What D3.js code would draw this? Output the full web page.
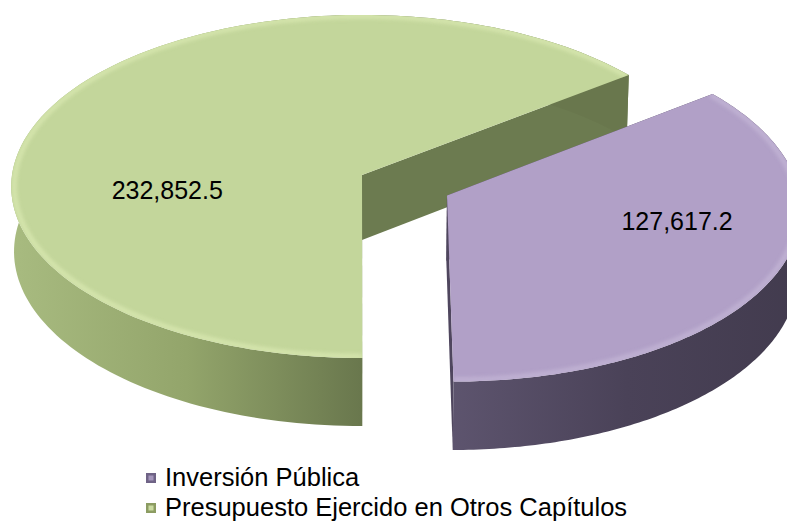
<!DOCTYPE html>
<html><head><meta charset="utf-8">
<script src="https://cdn.jsdelivr.net/npm/d3@7"></script>
<style>body{margin:0;background:#fff} svg{display:block}</style>
</head><body><svg id="c" width="787" height="525"></svg>
<script>
// ---- data ----
const categories = ["Inversión Pública", "Presupuesto Ejercido en Otros Capítulos"];
const values = [127617.2, 232852.5];
// ---- styles / layout ----
const topColors = ["#B1A0C7", "#C3D69B"];
const bevelColors = ["#C9BCDA", "#E0EEB8"];
const sideStops = [["#5D546E", "#4A4258", "#423B4E"], ["#A8BB80", "#93A56B", "#69774D"]];
const cutColors = ["#4F465E", "#6C7B50"];
const legendOuter = ["#6F6386", "#8C9C62"];
const legendInner = ["#A597BC", "#CBDBA2"];
const explode = [94, 0];
const labelPos = [{deg: 103, r: 0.66}, {deg: 261, r: 0.56}];

const W = 787, Hh = 525;
const cx = 362, cy = 175, R = 350, depth = 75;
const tilt = Math.asin(0.488), focal = 4553;
const startAngle = 52.5 * Math.PI / 180;
const fmt = d3.format(",.1f");

const svg = d3.select("#c");
const defs = svg.append("defs");
defs.append("filter").attr("id", "blur").append("feGaussianBlur").attr("stdDeviation", 2);

function proj(u, v, h) {
  const D = v * Math.cos(tilt) - h * Math.sin(tilt);
  const s = focal / (focal + D);
  return [cx + u * s, cy - (v * Math.sin(tilt) + h * Math.cos(tilt)) * s];
}

const pie = d3.pie().sort(null).value(d => d).startAngle(startAngle).endAngle(startAngle + 2 * Math.PI);
const arcs = pie(values).map((a, i) => {
  const mid = (a.startAngle + a.endAngle) / 2;
  return {...a, i, mid, ou: explode[i] * Math.sin(mid), ov: explode[i] * Math.cos(mid)};
});

const line = d3.line().curve(d3.curveLinear);
const N = 160;
function rimPts(a, h, r = R) {
  return d3.range(N + 1).map(k => {
    const phi = a.startAngle + (a.endAngle - a.startAngle) * k / N;
    return proj(a.ou + r * Math.sin(phi), a.ov + r * Math.cos(phi), h);
  });
}
function rimPt(a, phi, h) { return proj(a.ou + R * Math.sin(phi), a.ov + R * Math.cos(phi), h); }

// draw farther slices first
const order = arcs.slice().sort((p, q) => q.ov - p.ov);
const g = svg.append("g");

order.forEach(a => {
  const i = a.i;
  const sg = g.append("g").attr("class", "slice");
  const apexT = proj(a.ou, a.ov, 0), apexB = proj(a.ou, a.ov, -depth);
  // cut faces
  [a.startAngle, a.endAngle].forEach(phi => {
    const pts = [apexT, rimPt(a, phi, 0), rimPt(a, phi, -depth), apexB];
    sg.append("path").attr("d", line(pts) + "Z").attr("fill", cutColors[i]);
  });
  // side band
  const top = rimPts(a, 0), bot = rimPts(a, -depth);
  const front = [];
  d3.range(N + 1).forEach(k => {
    const phi = a.startAngle + (a.endAngle - a.startAngle) * k / N;
    if (Math.cos(phi) < 0.05) front.push(top[k][0]);
  });
  const x0 = d3.min(front), x1 = d3.max(front);
  const gid = "side" + i;
  const gr = defs.append("linearGradient").attr("id", gid).attr("gradientUnits", "userSpaceOnUse")
    .attr("x1", x0).attr("x2", x1).attr("y1", 0).attr("y2", 0);
  sideStops[i].forEach((c, k) => gr.append("stop").attr("offset", k / (sideStops[i].length - 1)).attr("stop-color", c));
  sg.append("path").attr("d", line(top.concat(bot.slice().reverse())) + "Z").attr("fill", `url(#${gid})`);
  // top face
  const topD = line([apexT].concat(top)) + "Z";
  defs.append("clipPath").attr("id", "clip" + i).append("path").attr("d", topD);
  sg.append("path").attr("d", topD).attr("fill", topColors[i]);
  // bevel highlight along rim
  sg.append("path").attr("d", line(rimPts(a, 0, R - 3)))
    .attr("fill", "none").attr("stroke", bevelColors[i]).attr("stroke-width", 4)
    .attr("opacity", 0.8).attr("filter", "url(#blur)").attr("clip-path", `url(#clip${i})`);
});

// value labels
arcs.forEach(a => {
  const lp = labelPos[a.i];
  const phi = lp.deg * Math.PI / 180;
  const p = proj(a.ou + lp.r * R * Math.sin(phi), a.ov + lp.r * R * Math.cos(phi), 0);
  svg.append("text").attr("x", p[0]).attr("y", p[1]).attr("dy", "0.35em")
    .attr("text-anchor", "middle").attr("font-family", "Liberation Sans, Arial, sans-serif")
    .attr("font-size", 25).attr("fill", "#000").text(fmt(a.value));
});

// legend
const leg = svg.append("g").attr("transform", "translate(146,472)");
categories.forEach((c, i) => {
  const row = leg.append("g").attr("transform", `translate(0,${i * 30})`);
  row.append("rect").attr("x", 0).attr("y", 1).attr("width", 10).attr("height", 10).attr("fill", legendOuter[i]);
  row.append("rect").attr("x", 2.5).attr("y", 3.5).attr("width", 5).attr("height", 5).attr("fill", legendInner[i]);
  row.append("text").attr("x", 19).attr("y", 14).attr("font-family", "Liberation Sans, Arial, sans-serif")
    .attr("font-size", 25.5).attr("fill", "#000").text(c);
});
</script>
</body></html>
